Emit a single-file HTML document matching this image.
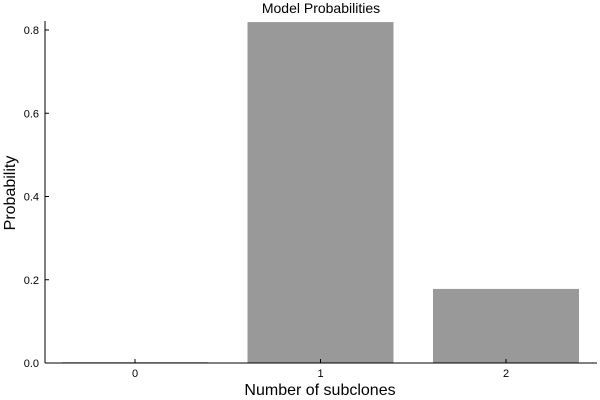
<!DOCTYPE html>
<html><head><style>body{margin:0;background:#fff}svg{display:block;font-family:"Liberation Sans",sans-serif}</style></head>
<body>
<svg id="c" width="600" height="400"></svg>
<script>
const categories = ["0","1","2"];
const values = [0.002, 0.819, 0.178];
const yTicks = [0.0, 0.2, 0.4, 0.6, 0.8];
const yTickLabels = ["0.0","0.2","0.4","0.6","0.8"];
const NS="http://www.w3.org/2000/svg";
const svg=document.getElementById('c');
const L=45,R=597,B=363,T=21;
const y=v=>B-v/0.2*83.25;
const step=185.5, x0=135;
const x=i=>x0+i*step;
const bw=146;
function mk(tag,attrs,txt){const e=document.createElementNS(NS,tag);for(const k in attrs)e.setAttribute(k,attrs[k]);if(txt!==undefined)e.textContent=txt;svg.appendChild(e);return e;}
values.forEach((v,i)=>{
  const r=mk('rect',{x:x(i)-bw/2,y:y(v),width:bw,height:B-y(v),fill:'#999999'});
  
  
});
let a=mk('line',{x1:L,y1:B,x2:R,y2:B,stroke:'#000','stroke-width':1});


a=mk('line',{x1:L,y1:B,x2:L,y2:T,stroke:'#000','stroke-width':1});


categories.forEach((c,i)=>{
  mk('line',{x1:x(i),y1:B,x2:x(i),y2:B-4,stroke:'#000'});
  const t=mk('text',{x:x(i),y:B+14,'text-anchor':'middle','font-size':11},c);
  
  
});
yTicks.forEach((v,i)=>{
  mk('line',{x1:L,y1:y(v),x2:L+4,y2:y(v),stroke:'#000'});
  const t=mk('text',{x:L-6,y:y(v)+4,'text-anchor':'end','font-size':11},yTickLabels[i]);
  
  
});
let t=mk('text',{x:321,y:13,'text-anchor':'middle','font-size':14},'Model Probabilities');


t=mk('text',{x:320,y:395,'text-anchor':'middle','font-size':16},'Number of subclones');


t=mk('text',{x:15,y:193,'text-anchor':'middle','font-size':16,transform:'rotate(-90 15 193)'},'Probability');


</script>
</body></html>
